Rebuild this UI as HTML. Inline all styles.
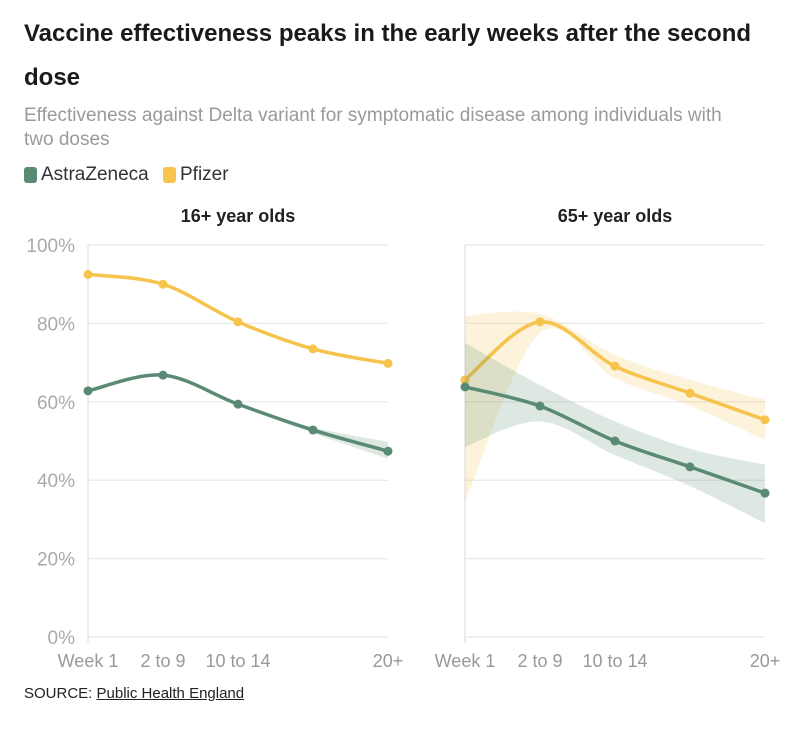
<!DOCTYPE html>
<html><head><meta charset="utf-8"><style>
body{margin:0;background:#fff;font-family:"Liberation Sans",sans-serif;}
#wrap{position:relative;width:812px;height:732px;overflow:hidden}
h1{position:absolute;left:24px;top:12px;margin:0;font-size:24px;line-height:44px;font-weight:bold;color:#1a1a1a;width:765px}
.sub{position:absolute;left:24px;top:104px;font-size:19px;line-height:24px;color:#9a9a9a;width:715px}
.leg{position:absolute;top:164px;font-size:19px;color:#333;display:flex;align-items:center}
.sw{width:13px;height:16px;border-radius:3px;margin-right:4px}
.src{position:absolute;left:24px;top:685px;font-size:15px;color:#222}
.src u{text-decoration:underline}
</style></head><body><div id="wrap">
<h1>Vaccine effectiveness peaks in the early weeks after the second dose</h1>
<div class="sub">Effectiveness against Delta variant for symptomatic disease among individuals with two doses</div>
<div class="leg" style="left:24px"><span class="sw" style="background:#5a8a74"></span>AstraZeneca</div>
<div class="leg" style="left:163px"><span class="sw" style="background:#f6c34c"></span>Pfizer</div>
<svg id="svg" width="812" height="732" style="position:absolute;left:0;top:0"></svg>
<div class="src">SOURCE: <u>Public Health England</u></div>
</div>
<script>
const categories=["Week 1","2 to 9","10 to 14","15 to 19","20+"];
const tickLabels=["Week 1","2 to 9","10 to 14","","20+"];
const yTicks=[0,20,40,60,80,100];
const panelTitles=["16+ year olds","65+ year olds"];
const azYoung=[62.8,66.8,59.4,52.8,47.4];
const azYoungLo=[62.3,66.5,59.0,52.0,45.5];
const azYoungHi=[63.3,67.1,59.8,53.5,49.8];
const pfYoung=[92.5,90,80.4,73.5,69.8];
const pfYoungLo=[92.2,89.7,80.1,73.1,69.3];
const pfYoungHi=[92.8,90.3,80.7,73.9,70.3];
const azOld=[63.8,58.9,50,43.4,36.7];
const azOldLo=[48.5,55,46.4,38.5,29];
const azOldHi=[75,64.3,55,48,44];
const pfOld=[65.6,80.4,69.1,62.2,55.4];
const pfOldLo=[34.4,77.6,66,59,50.3];
const pfOldHi=[81.9,82.4,72,65.6,60.5];
const svg=document.getElementById('svg');
const NS='http://www.w3.org/2000/svg';
function mk(t,a,name,parent){const e=document.createElementNS(NS,t);for(const k in a)e.setAttribute(k,a[k]);


(parent||svg).appendChild(e);return e;}
const y=v=>637-v*3.92;
function curve(pts){let d='M'+pts[0][0]+','+pts[0][1];for(let i=0;i<pts.length-1;i++){const p0=pts[Math.max(0,i-1)],p1=pts[i],p2=pts[i+1],p3=pts[Math.min(pts.length-1,i+2)];
const c1=[p1[0]+(p2[0]-p0[0])/6,p1[1]+(p2[1]-p0[1])/6],c2=[p2[0]-(p3[0]-p1[0])/6,p2[1]-(p3[1]-p1[1])/6];
d+=' C'+c1+' '+c2+' '+p2;}return d;}
function panel(x0,title,series){
 const x=i=>x0+i*75;
 const t=mk('text',{x:x0+150,y:222,'text-anchor':'middle','font-size':18,'font-weight':'bold',fill:'#222','font-family':'Liberation Sans'},'panel-title');t.textContent=title;
 yTicks.forEach(v=>{mk('line',{x1:x0,x2:x0+300,y1:y(v),y2:y(v),stroke:'#ececec','stroke-width':1.5},'gridline');});
 mk('line',{x1:x0,x2:x0,y1:y(100),y2:y(0)+6,stroke:'#e6e6e6','stroke-width':1.5},'y-axis-line');
 categories.forEach((c,i)=>{
  const tx=mk('text',{x:x(i),y:667,'text-anchor':'middle','font-size':18,fill:'#999','font-family':'Liberation Sans'},'x-tick-label');tx.textContent=tickLabels[i];});
 series.forEach(s=>{
  const hi=s.hi.map((v,i)=>[x(i),y(v)]),lo=s.lo.map((v,i)=>[x(i),y(v)]).reverse();
  const dl=curve(lo).replace('M','L');
  mk('path',{d:curve(hi)+' '+dl+' Z',fill:s.c,opacity:0.2},s.n+'-confidence-band');
  mk('path',{d:curve(s.v.map((v,i)=>[x(i),y(v)])),fill:'none',stroke:s.c,'stroke-width':3.5},s.n+'-line');
  s.v.forEach((v,i)=>mk('circle',{cx:x(i),cy:y(v),r:4.5,fill:s.c},s.n+'-point'));
 });
}
yTicks.forEach(v=>{const t=mk('text',{x:75,y:y(v)+7,'text-anchor':'end','font-size':19,fill:'#aaa','font-family':'Liberation Sans'},'y-tick-label');t.textContent=v+'%';});
panel(88,panelTitles[0],[{n:'pfizer',c:'#f6c34c',v:pfYoung,lo:pfYoungLo,hi:pfYoungHi},{n:'astrazeneca',c:'#5a8a74',v:azYoung,lo:azYoungLo,hi:azYoungHi}]);
panel(465,panelTitles[1],[{n:'pfizer',c:'#f6c34c',v:pfOld,lo:pfOldLo,hi:pfOldHi},{n:'astrazeneca',c:'#5a8a74',v:azOld,lo:azOldLo,hi:azOldHi}]);
</script></body></html>
